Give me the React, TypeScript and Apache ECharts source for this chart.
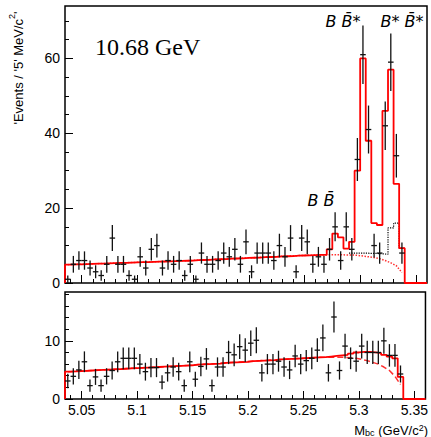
import React, { useEffect, useRef } from "react";
import * as echarts from "echarts";

// ---- binning / axis ranges ----
const X_MIN = 5.035;
const X_MAX = 5.36;
const BIN_WIDTH = 0.005;
const Y_TOP_MAX = 74;
const Y_BOTTOM_MAX = 18.4;
const BOTTOM_ERR_WEIGHT = 0.5;

const xMajorTicks = [5.05, 5.1, 5.15, 5.2, 5.25, 5.3, 5.35];
const xMinorTicks = [
  5.04, 5.06, 5.07, 5.08, 5.09, 5.11, 5.12, 5.13, 5.14, 5.16, 5.17, 5.18, 5.19,
  5.21, 5.22, 5.23, 5.24, 5.26, 5.27, 5.28, 5.29, 5.31, 5.32, 5.33, 5.34,
];
const yTopMajor = [0, 20, 40, 60];
const yTopMinor = [5, 10, 15, 25, 30, 35, 45, 50, 55, 65, 70];
const yBottomMajor = [0, 10];
const yBottomMinor = [2, 4, 6, 8, 12, 14, 16, 18];

// ---- top panel (signal region) ----
const topCounts = [
  1, 5, 6, 6, 4, 3, 2, 5, 12, 5,
  5, 2, 1, 7, 4, 9, 10, 4, 6, 5,
  6, 2, 5, 1, 8, 5, 5, 6, 8, 7,
  9, 5, 11, 3, 8, 8, 8, 6, 10, 7,
  12, 3, 12, 11, 5, 7, 5, 9, 15, 6,
  15, 9, 33, 61, 41, 10, 8, 42, 59, 34,
  8, 0, 0, 0, 0,
];
const topFit = [
  4.9, 4.95, 5.0, 5.05, 5.1, 5.15, 5.2, 5.25, 5.3, 5.35,
  5.4, 5.45, 5.5, 5.55, 5.6, 5.65, 5.7, 5.75, 5.8, 5.85,
  5.9, 5.95, 6.0, 6.1, 6.15, 6.2, 6.3, 6.35, 6.4, 6.5,
  6.55, 6.6, 6.7, 6.75, 6.8, 6.9, 6.95, 7.0, 7.1, 7.15,
  7.2, 7.3, 7.35, 7.4, 7.45, 7.5, 7.5, 9.0, 13.2, 12.2,
  9.2, 11.0, 30, 60, 38, 16, 15.5, 46, 57, 26.5,
  9.3, 0, 0, 0, 0,
];
const topBkg = [
  4.9, 4.95, 5.0, 5.05, 5.1, 5.15, 5.2, 5.25, 5.3, 5.35,
  5.4, 5.45, 5.5, 5.55, 5.6, 5.65, 5.7, 5.75, 5.8, 5.85,
  5.9, 5.95, 6.0, 6.1, 6.15, 6.2, 6.3, 6.35, 6.4, 6.5,
  6.55, 6.6, 6.7, 6.75, 6.8, 6.9, 6.95, 7.0, 7.1, 7.15,
  7.2, 7.3, 7.35, 7.4, 7.45, 7.5, 7.5, 7.55, 7.55, 7.55,
  7.5, 7.5, 7.4, 7.2, 7.0, 6.8, 6.5, 6.0, 5.4, 4.6,
  2.8,
];
const topOtherFirstBin = 51;
const topOther = [8.0, 8.0, 8.0, 7.9, 7.9, 7.8, 7.7, 14.7, 16.0, 9.3];

// ---- bottom panel (sideband) ----
const bottomVals = [
  3.1, 3.9, 5.0, 6.4, 2.3, 3.8, 2.3, 3.9, 4.9, 6.4,
  7.0, 7.0, 7.0, 6.0, 4.7, 5.4, 5.4, 2.9, 4.5, 5.5,
  4.7, 2.3, 6.4, 3.4, 5.6, 6.9, 2.3, 5.5, 5.5, 8.0,
  7.6, 9.0, 8.4, 9.6, 10.1, 4.5, 6.0, 6.0, 6.5, 5.5,
  5.0, 7.4, 6.0, 6.6, 7.0, 8.4, 10.5, 4.5, 14.1, 4.9,
  9.1, 7.0, 6.5, 9.1, 8.0, 8.0, 8.0, 10.0, 7.5, 7.5,
  4.3, 0, 0, 0, 0,
];
const bottomFit = [
  4.7, 4.75, 4.8, 4.85, 4.9, 4.95, 5.0, 5.05, 5.1, 5.15,
  5.2, 5.25, 5.3, 5.35, 5.4, 5.45, 5.5, 5.55, 5.6, 5.65,
  5.7, 5.75, 5.8, 5.9, 5.95, 6.0, 6.05, 6.1, 6.2, 6.25,
  6.3, 6.35, 6.4, 6.5, 6.55, 6.6, 6.65, 6.7, 6.8, 6.85,
  6.9, 6.95, 7.0, 7.05, 7.1, 7.15, 7.2, 7.3, 7.4, 7.5,
  7.6, 7.8, 8.0, 8.1, 8.1, 8.0, 7.9, 7.6, 7.3, 7.0,
  3.8, 0, 0, 0, 0,
];
const bottomBkg = [
  4.7, 4.75, 4.8, 4.85, 4.9, 4.95, 5.0, 5.05, 5.1, 5.15,
  5.2, 5.25, 5.3, 5.35, 5.4, 5.45, 5.5, 5.55, 5.6, 5.65,
  5.7, 5.75, 5.8, 5.9, 5.95, 6.0, 6.05, 6.1, 6.2, 6.25,
  6.3, 6.35, 6.4, 6.5, 6.55, 6.6, 6.65, 6.7, 6.8, 6.85,
  6.9, 6.95, 7.0, 7.05, 7.1, 7.15, 7.2, 7.2, 7.2, 7.2,
  7.15, 7.1, 7.0, 6.8, 6.6, 6.3, 6.0, 5.5, 4.9, 3.9,
  2.5,
];

// ---- helpers ----
const binStart = (i: number) => X_MIN + i * BIN_WIDTH;
const binCenter = (i: number) => binStart(i) + BIN_WIDTH / 2;

const histData = (vals: number[], first = 0, fromZero = false) => {
  const d: number[][] = [];
  if (fromZero) d.push([binStart(first), 0]);
  vals.forEach((v, k) => d.push([binStart(first + k), v]));
  d.push([binStart(first + vals.length), vals[vals.length - 1]]);
  return d;
};
const curveData = (vals: number[]) => vals.map((v, i) => [binCenter(i), v]);

const pointData = (vals: number[], err: (v: number) => number) =>
  vals
    .map((v, i) => [binCenter(i), v, err(v)])
    .filter((p) => p[1] > 0);

const errorRender = (params: any, api: any) => {
  const x = api.value(0);
  const y = api.value(1);
  const e = api.value(2);
  const l = api.coord([x - BIN_WIDTH / 2, y]);
  const r = api.coord([x + BIN_WIDTH / 2, y]);
  const t = api.coord([x, y + e]);
  const b = api.coord([x, Math.max(y - e, 0)]);
  const style = { stroke: "#111", lineWidth: 1.3 };
  return {
    type: "group",
    children: [
      { type: "line", shape: { x1: l[0], y1: l[1], x2: r[0], y2: r[1] }, style },
      { type: "line", shape: { x1: t[0], y1: t[1], x2: b[0], y2: b[1] }, style },
    ],
  };
};

const FONT = "'Liberation Sans', Arial, Helvetica, sans-serif";

const fmtX = (v: number) => String(Number(v.toFixed(3)));

const xAxisMajor = (gridIndex: number, labels: boolean) => ({
  type: "value",
  gridIndex,
  position: "bottom",
  min: X_MIN,
  max: X_MAX,
  axisLine: { show: false },
  splitLine: { show: false },
  axisTick: {
    show: true,
    inside: true,
    length: 8,
    customValues: xMajorTicks,
    lineStyle: { color: "#000", width: 1 },
  },
  axisLabel: {
    show: labels,
    customValues: xMajorTicks,
    formatter: fmtX,
    color: "#000",
    fontFamily: FONT,
    fontSize: 14,
    margin: 4,
  },
});
const xAxisMinor = (gridIndex: number) => ({
  type: "value",
  gridIndex,
  position: "bottom",
  min: X_MIN,
  max: X_MAX,
  axisLine: { show: false },
  splitLine: { show: false },
  axisTick: {
    show: true,
    inside: true,
    length: 4,
    customValues: xMinorTicks,
    lineStyle: { color: "#000", width: 1 },
  },
  axisLabel: { show: false },
});
const yAxisMajor = (gridIndex: number, max: number, ticks: number[]) => ({
  type: "value",
  gridIndex,
  position: "left",
  min: 0,
  max,
  axisLine: { show: false },
  splitLine: { show: false },
  axisTick: {
    show: true,
    inside: true,
    length: 8,
    customValues: ticks,
    lineStyle: { color: "#000", width: 1 },
  },
  axisLabel: {
    show: true,
    customValues: ticks,
    color: "#000",
    fontFamily: FONT,
    fontSize: 14,
    margin: 5,
  },
});
const yAxisMinor = (gridIndex: number, max: number, ticks: number[]) => ({
  type: "value",
  gridIndex,
  position: "left",
  min: 0,
  max,
  axisLine: { show: false },
  splitLine: { show: false },
  axisTick: {
    show: true,
    inside: true,
    length: 4,
    customValues: ticks,
    lineStyle: { color: "#000", width: 1 },
  },
  axisLabel: { show: false },
});

export default function App() {
  const ref = useRef<HTMLDivElement>(null);

  useEffect(() => {
    if (!ref.current) return;
    const chart = echarts.init(ref.current, undefined, { renderer: "svg" });

    const option: any = {
      animation: false,
      backgroundColor: "#fff",
      textStyle: { fontFamily: FONT },
      grid: [
        { left: 65, top: 6, width: 362, height: 277, show: true, borderColor: "#000", borderWidth: 1.5, backgroundColor: "transparent" },
        { left: 65, top: 292, width: 362, height: 107, show: true, borderColor: "#000", borderWidth: 1.5, backgroundColor: "transparent" },
      ],
      xAxis: [xAxisMajor(0, false), xAxisMajor(1, true), xAxisMinor(0), xAxisMinor(1)],
      yAxis: [
        yAxisMajor(0, Y_TOP_MAX, yTopMajor),
        yAxisMajor(1, Y_BOTTOM_MAX, yBottomMajor),
        yAxisMinor(0, Y_TOP_MAX, yTopMinor),
        yAxisMinor(1, Y_BOTTOM_MAX, yBottomMinor),
      ],
      series: [
        // top panel
        {
          type: "line",
          name: "bkg-top",
          xAxisIndex: 0,
          yAxisIndex: 0,
          data: curveData(topBkg),
          showSymbol: false,
          lineStyle: { color: "#ff3030", width: 1.5, type: "dotted" },
          z: 2,
        },
        {
          type: "line",
          name: "other-top",
          xAxisIndex: 0,
          yAxisIndex: 0,
          data: histData(topOther, topOtherFirstBin),
          step: "end",
          showSymbol: false,
          lineStyle: { color: "#000", width: 1.2, type: "dotted" },
          z: 2,
        },
        {
          type: "line",
          name: "fit-top",
          xAxisIndex: 0,
          yAxisIndex: 0,
          data: histData(topFit, 0, true),
          step: "end",
          showSymbol: false,
          lineStyle: { color: "#ff0000", width: 1.8 },
          z: 3,
        },
        {
          type: "custom",
          name: "data-top",
          xAxisIndex: 0,
          yAxisIndex: 0,
          data: pointData(topCounts, (n) => Math.sqrt(n)),
          renderItem: errorRender,
          encode: { x: 0, y: 1 },
          z: 4,
        },
        // bottom panel
        {
          type: "line",
          name: "bkg-bottom",
          xAxisIndex: 1,
          yAxisIndex: 1,
          data: curveData(bottomBkg),
          showSymbol: false,
          lineStyle: { color: "#ff3030", width: 1.5, type: "dashed" },
          z: 2,
        },
        {
          type: "line",
          name: "fit-bottom",
          xAxisIndex: 1,
          yAxisIndex: 1,
          data: histData(bottomFit, 0, true),
          step: "end",
          showSymbol: false,
          lineStyle: { color: "#ff0000", width: 1.8 },
          z: 3,
        },
        {
          type: "custom",
          name: "data-bottom",
          xAxisIndex: 1,
          yAxisIndex: 1,
          data: pointData(bottomVals, (v) => Math.sqrt(v * BOTTOM_ERR_WEIGHT)),
          renderItem: errorRender,
          encode: { x: 0, y: 1 },
          z: 4,
        },
      ],
      graphic: [
        {
          type: "text",
          x: 95,
          y: 47,
          style: {
            text: "10.68 GeV",
            font: "24px 'Liberation Serif', 'DejaVu Serif', serif",
            fill: "#000",
            textAlign: "left",
            textVerticalAlign: "middle",
            align: "left",
            verticalAlign: "middle",
          },
        },
        {
          type: "text",
          x: 343,
          y: 21,
          style: {
            text: "B B\u0304*",
            font: "italic 16px 'DejaVu Sans', sans-serif",
            fill: "#000",
            textAlign: "center",
            textVerticalAlign: "middle",
            align: "center",
            verticalAlign: "middle",
          },
        },
        {
          type: "text",
          x: 402,
          y: 21,
          style: {
            text: "B* B\u0304*",
            font: "italic 16px 'DejaVu Sans', sans-serif",
            fill: "#000",
            textAlign: "center",
            textVerticalAlign: "middle",
            align: "center",
            verticalAlign: "middle",
          },
        },
        {
          type: "text",
          x: 321,
          y: 200,
          style: {
            text: "B B\u0304",
            font: "italic 16px 'DejaVu Sans', sans-serif",
            fill: "#000",
            textAlign: "center",
            textVerticalAlign: "middle",
            align: "center",
            verticalAlign: "middle",
          },
        },
        {
          type: "text",
          x: 16,
          y: 68,
          rotation: Math.PI / 2,
          style: {
            text: "{a|'Events / '5' MeV/c}{s|2}{a|'}",
            fill: "#000",
            textAlign: "center",
            textVerticalAlign: "middle",
            align: "center",
            verticalAlign: "middle",
            rich: {
              a: { fontFamily: FONT, fontSize: 13, lineHeight: 18, verticalAlign: "bottom", fill: "#000" },
              s: { fontFamily: FONT, fontSize: 9, lineHeight: 18, verticalAlign: "top", fill: "#000" },
            },
          },
        },
        {
          type: "text",
          x: 428,
          y: 430,
          style: {
            text: "{a|M}{b|bc}{a| (GeV/c}{s|2}{a|)}",
            fill: "#000",
            textAlign: "right",
            textVerticalAlign: "middle",
            align: "right",
            verticalAlign: "middle",
            rich: {
              a: { fontFamily: FONT, fontSize: 13, lineHeight: 14, verticalAlign: "middle", fill: "#000" },
              b: { fontFamily: FONT, fontSize: 9, lineHeight: 10, verticalAlign: "bottom", fill: "#000" },
              s: { fontFamily: FONT, fontSize: 9, lineHeight: 10, verticalAlign: "top", fill: "#000" },
            },
          },
        },
      ],
    };

    chart.setOption(option);
    return () => chart.dispose();
  }, []);

  return (
    <div
      ref={ref}
      style={{ position: "fixed", left: 0, top: 0, width: 431, height: 437, background: "#fff" }}
    />
  );
}
